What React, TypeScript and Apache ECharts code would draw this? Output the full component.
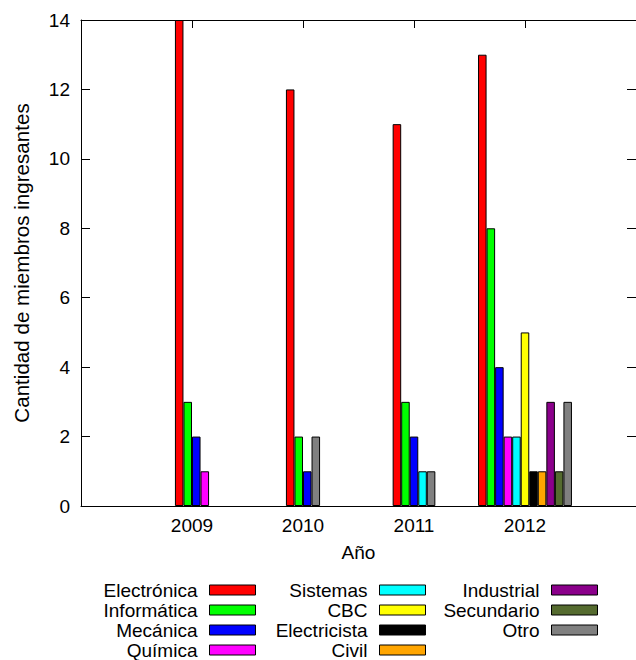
import React, { useEffect, useRef } from 'react';
import * as echarts from 'echarts';

const years = ['2009', '2010', '2011', '2012'];
const electronica = [14, 12, 11, 13];
const informatica = [3, 2, 3, 8];
const mecanica = [2, 1, 2, 4];
const quimica = [1, 0, 0, 2];
const sistemas = [0, 0, 1, 2];
const cbc = [0, 0, 0, 5];
const electricista = [0, 0, 0, 1];
const civil = [0, 0, 0, 1];
const industrial = [0, 0, 0, 3];
const secundario = [0, 0, 0, 1];
const otro = [0, 2, 1, 3];

const seriesNames = ['Electrónica', 'Informática', 'Mecánica', 'Química', 'Sistemas', 'CBC', 'Electricista', 'Civil', 'Industrial', 'Secundario', 'Otro'];
const seriesValues = [electronica, informatica, mecanica, quimica, sistemas, cbc, electricista, civil, industrial, secundario, otro];
const seriesColors = ['#ff0000', '#00ff00', '#0000ff', '#ff00ff', '#00ffff', '#ffff00', '#000000', '#ffa500', '#8b008b', '#556b2f', '#808080'];
const legendColumns = [[0, 1, 2, 3], [4, 5, 6, 7], [8, 9, 10]];
const legendRights = [380, 210, 38];

const FONT = '"Liberation Sans", Arial, Helvetica, sans-serif';

export default function App() {
  const ref = useRef<HTMLDivElement>(null);
  useEffect(() => {
    document.body.style.margin = '0';
    const chart = echarts.init(ref.current!, null, { renderer: 'svg' });
    const slot = 1 / 13;
    const positions: [number, number][][] = seriesValues.map(() => []);
    years.forEach((_, i) => {
      const present = seriesValues.map((_v, s) => s).filter((s) => seriesValues[s][i] > 0);
      const n = present.length;
      present.forEach((s, k) => {
        positions[s].push([i + (k - (n - 1) / 2) * slot, seriesValues[s][i]]);
      });
    });
    const fmt = (v: number) => {
      const r = Math.round(v);
      return Math.abs(r - v) < 1e-6 && years[r] ? years[r] : '';
    };
    const axisLine = { show: true, onZero: false, lineStyle: { color: '#000', width: 1 } };
    chart.setOption({
      animation: false,
      textStyle: { fontFamily: FONT },
      grid: { left: 81, right: 0, top: 20, bottom: 154, containLabel: false },
      xAxis: [
        {
          type: 'value', min: -1, max: 4, interval: 1, position: 'bottom',
          axisLine,
          axisTick: { show: true, inside: true, length: 8, customValues: [0, 1, 2, 3], lineStyle: { color: '#000' } },
          axisLabel: { show: true, customValues: [0, 1, 2, 3], formatter: fmt, fontSize: 19, color: '#000', margin: 10, fontFamily: FONT },
          splitLine: { show: false },
          name: 'Año', nameLocation: 'middle', nameGap: 37,
          nameTextStyle: { fontSize: 19, color: '#000', fontFamily: FONT },
        },
        {
          type: 'value', min: -1, max: 4, interval: 1, position: 'top',
          axisLine,
          axisTick: { show: true, inside: true, length: 8, customValues: [0, 1, 2, 3], lineStyle: { color: '#000' } },
          axisLabel: { show: false },
          splitLine: { show: false },
        },
      ],
      yAxis: [
        {
          type: 'value', min: 0, max: 14, interval: 2, position: 'left',
          axisLine,
          axisTick: { show: true, inside: true, length: 9, lineStyle: { color: '#000' } },
          axisLabel: { show: true, fontSize: 19, color: '#000', margin: 11, fontFamily: FONT },
          splitLine: { show: false },
          name: 'Cantidad de miembros ingresantes', nameLocation: 'middle', nameGap: 49, nameRotate: 90,
          nameTextStyle: { fontSize: 20.6, color: '#000', fontFamily: FONT },
        },
        {
          type: 'value', min: 0, max: 14, interval: 2, position: 'right',
          axisLine: { show: false, onZero: false },
          axisTick: { show: true, inside: true, length: 9, lineStyle: { color: '#000' } },
          axisLabel: { show: false },
          splitLine: { show: false },
        },
      ],
      legend: legendColumns.map((col, c) => ({
        orient: 'vertical', align: 'right', right: legendRights[c], top: 580, height: 100,
        padding: 0, itemGap: 0, itemWidth: 46, itemHeight: 10, icon: 'rect',
        selectedMode: false,
        textStyle: { fontSize: 19, color: '#000', fontFamily: FONT, lineHeight: 20, padding: [0, 7, 0, 0] },
        itemStyle: { borderColor: '#000', borderWidth: 1 },
        data: col.map((s) => seriesNames[s]),
      })),
      series: seriesNames.map((name, s) => ({
        type: 'bar', name, xAxisIndex: 0, yAxisIndex: 0,
        data: positions[s], barWidth: 8.54, barGap: '-100%',
        itemStyle: { color: seriesColors[s], borderColor: '#000', borderWidth: 1 },
      })),
    });
    return () => chart.dispose();
  }, []);
  return <div ref={ref} style={{ position: 'absolute', left: 0, top: 0, width: 636, height: 660 }} />;
}
